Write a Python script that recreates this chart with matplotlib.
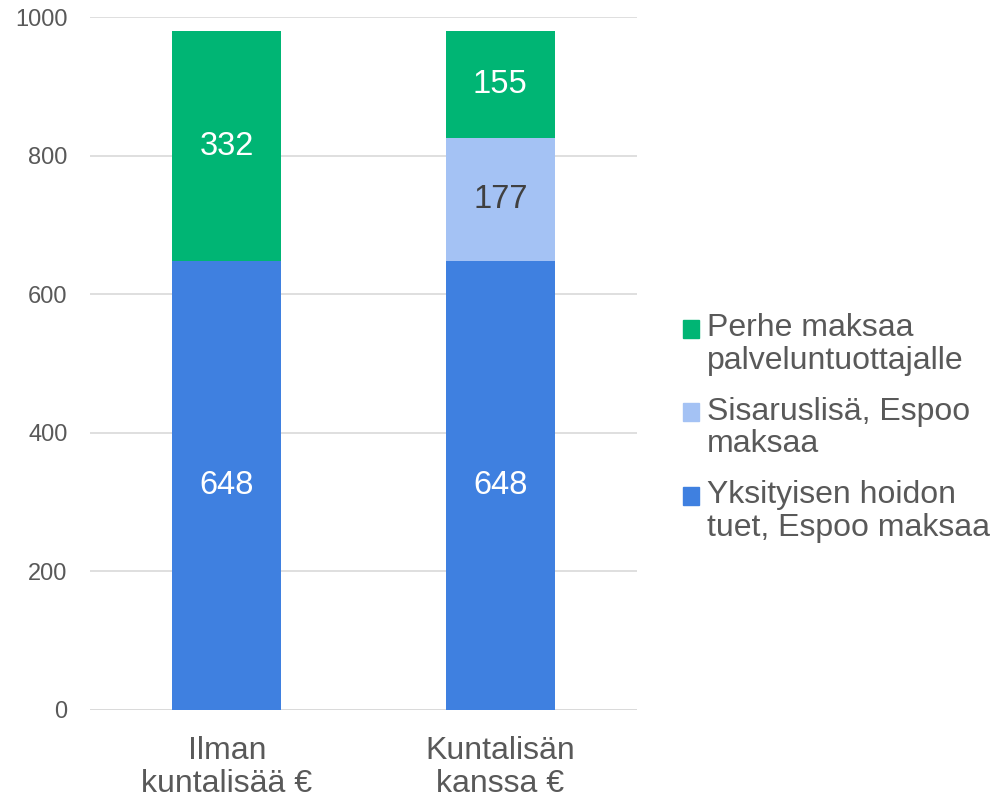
import matplotlib.pyplot as plt
from matplotlib.patches import Patch, Rectangle
from matplotlib.legend_handler import HandlerPatch

plt.rcParams['font.family'] = ['Liberation Sans', 'DejaVu Sans']

categories = ["Ilman\nkuntalisää €", "Kuntalisän\nkanssa €"]
tuet = [648, 648]
sisaruslisa = [0, 177]
perhe = [332, 155]

series_names = ["Yksityisen hoidon\ntuet, Espoo maksaa",
                "Sisaruslisä, Espoo\nmaksaa",
                "Perhe maksaa\npalveluntuottajalle"]
colors = ["#3F80E0", "#A4C2F4", "#00B574"]
label_colors = ["white", "#404040", "white"]
text_gray = "#595959"


def top_square(legend, orig_handle, xdescent, ydescent, width, height, fontsize):
    # put the legend square next to the first text line
    return Rectangle((-xdescent, -ydescent + 11.5), width, height)


fig = plt.figure(figsize=(9.93, 8.0), dpi=100)
ax = fig.add_axes([0.0906, 0.1125, 0.551, 0.866])

x = range(len(categories))
bottom = [0, 0]
for vals, col, lc in zip([tuet, sisaruslisa, perhe], colors, label_colors):
    bars = ax.bar(x, vals, width=0.4, bottom=bottom, color=col, zorder=2)
    for b, v, b0 in zip(bars, vals, bottom):
        if v > 0:
            ax.text(b.get_x() + b.get_width() / 2, b0 + v / 2, str(v),
                    ha='center', va='center', color=lc, fontsize=23.5)
    bottom = [a + v for a, v in zip(bottom, vals)]

ax.set_xlim(-0.5, 1.5)
ax.set_ylim(0, 1000)
ax.set_yticks(range(0, 1001, 200))
ax.grid(axis='y', color='#D9D9D9', linewidth=1.2, zorder=0)
for s in ax.spines.values():
    s.set_visible(False)
ax.axhline(0, color='#D9D9D9', linewidth=1.2, zorder=1)
ax.set_xticks(list(x))
ax.set_xticklabels(categories, fontsize=23, color=text_gray, linespacing=1.12)
ax.tick_params(axis='both', length=0)
ax.tick_params(axis='y', labelsize=17, labelcolor=text_gray, pad=16)
ax.tick_params(axis='x', pad=19)

handles = [Patch(color=c) for c in colors[::-1]]
leg = fig.legend(handles, series_names[::-1], loc='center left',
                 bbox_to_anchor=(0.659, 0.465), frameon=False, fontsize=23,
                 labelcolor=text_gray, handlelength=0.5, handleheight=0.5,
                 handletextpad=0.25, labelspacing=0.65,
                 handler_map={Patch: HandlerPatch(patch_func=top_square)})
for t in leg.get_texts():
    t.set_linespacing(1.12)

fig.savefig("out.png", dpi=100)
